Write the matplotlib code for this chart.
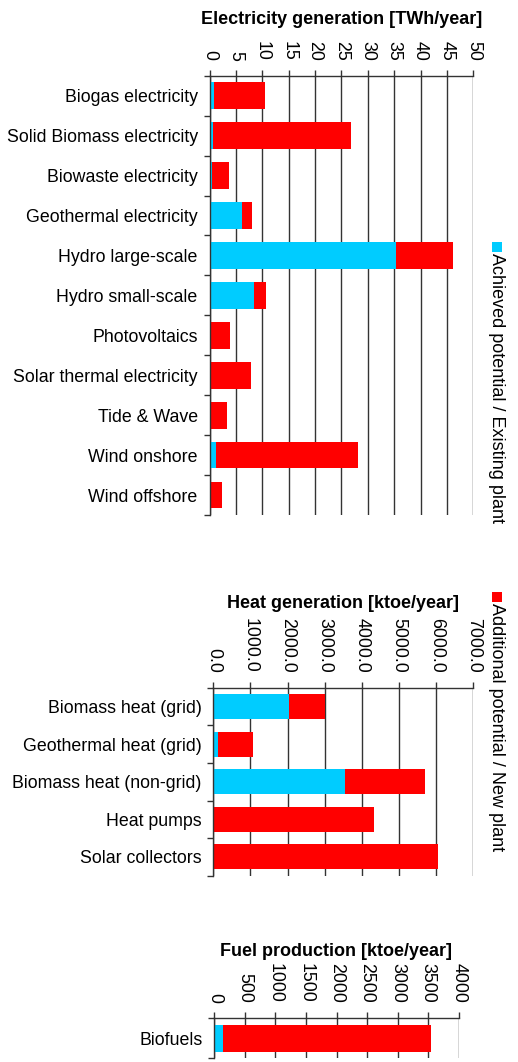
import matplotlib
matplotlib.use("Agg")
import matplotlib.pyplot as plt
from matplotlib.patches import Rectangle
from matplotlib.ticker import FixedLocator, FormatStrFormatter

plt.rcParams['font.family'] = ['Liberation Sans', 'DejaVu Sans']

CYAN = '#00CCFF'
RED = '#FF0000'

# electricity [TWh/year]
elec_names = ['Biogas electricity', 'Solid Biomass electricity', 'Biowaste electricity',
              'Geothermal electricity', 'Hydro large-scale', 'Hydro small-scale',
              'Photovoltaics', 'Solar thermal electricity', 'Tide & Wave',
              'Wind onshore', 'Wind offshore']
elec_existing = [0.8, 0.6, 0.4, 6.1, 35.3, 8.4, 0.1, 0.1, 0.1, 1.2, 0.1]
elec_total = [10.5, 26.8, 3.7, 8.05, 46.1, 10.7, 3.9, 7.9, 3.3, 28.1, 2.4]

# heat [ktoe/year]
heat_names = ['Biomass heat (grid)', 'Geothermal heat (grid)', 'Biomass heat (non-grid)',
              'Heat pumps', 'Solar collectors']
heat_existing = [2040, 120, 3545, 0, 0]
heat_total = [3005, 1070, 5700, 4325, 6050]

# fuel [ktoe/year]
fuel_names = ['Biofuels']
fuel_existing = [140]
fuel_total = [3545]

legend_labels = ['Achieved potential / Existing plant', 'Additional potential / New plant']

W, H = 518, 1062
fig = plt.figure(figsize=(W / 100, H / 100), dpi=100)


def panel(rect, names, existing, total, xmax, step, fmt, title, title_y):
    ax = fig.add_axes(rect)
    n = len(names)
    pos = list(range(n))
    additional = [t - e for t, e in zip(total, existing)]
    ax.barh(pos, existing, height=0.67, color=CYAN, linewidth=0)
    ax.barh(pos, additional, left=existing, height=0.67, color=RED, linewidth=0)
    ax.set_xlim(0, xmax)
    ax.set_ylim(n - 0.5, -0.5)
    ax.xaxis.set_major_locator(FixedLocator([i * step for i in range(int(round(xmax / step)) + 1)]))
    ax.xaxis.set_major_formatter(FormatStrFormatter(fmt))
    ax.xaxis.tick_top()
    ax.tick_params(axis='x', direction='out', length=4, width=1, color='#333333',
                   labelsize=12.8, labelrotation=-90, pad=7)
    ax.set_yticks([i - 0.5 for i in range(n + 1)])
    ax.set_yticklabels([])
    ax.set_yticks(pos, minor=True)
    ax.set_yticklabels(names, minor=True, fontsize=12.8)
    ax.tick_params(axis='y', which='major', direction='out', length=4, width=1, color='#333333')
    ax.tick_params(axis='y', which='minor', length=0, pad=8.5)
    ax.grid(axis='x', color='#333333', linewidth=1)
    ax.set_axisbelow(True)
    for s in ['right', 'bottom']:
        ax.spines[s].set_visible(False)
    for s in ['top', 'left']:
        ax.spines[s].set_color('#333333')
        ax.spines[s].set_linewidth(1)
    cx = rect[0] + rect[2] / 2
    fig.text(cx, 1 - title_y / H, title, fontsize=13, fontweight='bold',
             ha='center', va='center')
    return ax


panel([209.5 / W, 1 - 515 / H, 263.8 / W, 439.3 / H], elec_names, elec_existing, elec_total,
      50, 5, '%d', 'Electricity generation [TWh/year]', 20)
panel([213.3 / W, 1 - 875.7 / H, 260 / W, 188 / H], heat_names, heat_existing, heat_total,
      7000, 1000, '%.1f', 'Heat generation [ktoe/year]', 603)
panel([214.3 / W, 1 - 1058.3 / H, 244.4 / W, 40 / H], fuel_names, fuel_existing, fuel_total,
      4000, 500, '%d', 'Fuel production [ktoe/year]', 952)

# legend, written top to bottom
for label, color, ytop in zip(legend_labels, [CYAN, RED], [242, 592]):
    fig.add_artist(Rectangle((492 / W, 1 - (ytop + 10) / H), 10 / W, 10 / H,
                             transform=fig.transFigure, color=color, linewidth=0))
    fig.text(497 / W, 1 - (ytop + 11) / H, label, rotation=-90,
             ha='center', va='top', fontsize=13)

fig.savefig('out.png', dpi=100)
